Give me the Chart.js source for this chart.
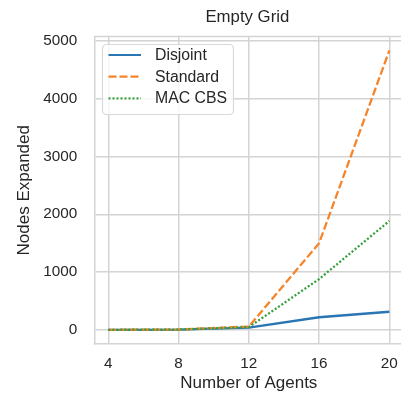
<!DOCTYPE html>
<html>
<head>
<meta charset="utf-8">
<script src="https://cdn.jsdelivr.net/npm/chart.js@4/dist/chart.umd.min.js"></script>
<style>
html, body { margin: 0; padding: 0; background: #ffffff; overflow: hidden; width: 401px; height: 395px; }
canvas { display: block; }
</style>
</head>
<body>
<canvas id="c" width="420" height="395"></canvas>
<script>
const TITLE = 'Empty Grid';
const X_LABEL = 'Number of Agents';
const Y_LABEL = 'Nodes Expanded';
const agents = [4, 8, 12, 16, 20];
const xTicks = [4, 8, 12, 16, 20];
const yTicks = [0, 1000, 2000, 3000, 4000, 5000];
const seriesNames = ['Disjoint', 'Standard', 'MAC CBS'];
const disjoint = [3, 8, 40, 220, 315];
const standard = [3, 8, 60, 1500, 4830];
const macCbs = [3, 8, 50, 880, 1885];

const FONT = "'Liberation Sans', Arial, sans-serif";
const TEXT = '#262626';
const GRID = '#d4d4d4';
const colors = ['#2a75b3', '#f5842a', '#35a03a'];
const dashes = [[], [8, 3], [2, 2]];
const values = [disjoint, standard, macCbs];

Chart.defaults.font.family = FONT;
Chart.defaults.color = TEXT;

const extras = {
  id: 'extras',
  afterDraw(chart) {
    const {ctx, chartArea: a} = chart;
    ctx.save();
    // top spine
    ctx.strokeStyle = GRID;
    ctx.lineWidth = 1.5;
    ctx.beginPath();
    ctx.moveTo(a.left, a.top);
    ctx.lineTo(a.right, a.top);
    ctx.stroke();
    // title
    ctx.fillStyle = TEXT;
    ctx.font = '16.8px ' + FONT;
    ctx.textAlign = 'center';
    ctx.textBaseline = 'alphabetic';
    ctx.fillText(TITLE, (a.left + a.right) / 2 - 1.5, 22);
    // legend
    const bx = 102.5, by = 44.5, bw = 131, bh = 70, r = 4;
    ctx.beginPath();
    ctx.moveTo(bx + r, by);
    ctx.arcTo(bx + bw, by, bx + bw, by + bh, r);
    ctx.arcTo(bx + bw, by + bh, bx, by + bh, r);
    ctx.arcTo(bx, by + bh, bx, by, r);
    ctx.arcTo(bx, by, bx + bw, by, r);
    ctx.closePath();
    ctx.fillStyle = 'rgba(255,255,255,0.8)';
    ctx.fill();
    ctx.strokeStyle = '#d9d9d9';
    ctx.lineWidth = 1.2;
    ctx.stroke();
    ctx.font = '15.8px ' + FONT;
    ctx.textAlign = 'left';
    ctx.textBaseline = 'middle';
    seriesNames.forEach((name, i) => {
      const y = 55 + i * 21.7;
      ctx.strokeStyle = colors[i];
      ctx.lineWidth = 2.2;
      ctx.setLineDash(dashes[i]);
      ctx.beginPath();
      ctx.moveTo(108.5, y);
      ctx.lineTo(141, y);
      ctx.stroke();
      ctx.setLineDash([]);
      ctx.fillStyle = TEXT;
      ctx.fillText(name, 155, y + 0.5);
    });
    ctx.restore();
  }
};

new Chart(document.getElementById('c'), {
  type: 'line',
  data: {
    datasets: seriesNames.map((name, i) => ({
      label: name,
      data: agents.map((x, j) => ({x: x, y: values[i][j]})),
      borderColor: colors[i],
      backgroundColor: colors[i],
      borderWidth: 2.3,
      borderDash: dashes[i],
      pointRadius: 0,
      tension: 0,
      fill: false,
      order: 3 - i
    }))
  },
  options: {
    responsive: false,
    animation: false,
    devicePixelRatio: 1,
    layout: { padding: { left: 0, right: 16.6, top: 36.5, bottom: 0 } },
    plugins: { legend: { display: false }, title: { display: false }, tooltip: { enabled: false } },
    scales: {
      x: {
        type: 'linear',
        min: 3.2,
        max: 20.8,
        afterBuildTicks: s => { s.ticks = xTicks.map(v => ({value: v})); },
        afterFit: s => { s.height = 51; },
        grid: { color: GRID, lineWidth: 1.5, drawTicks: false },
        border: { display: true, color: GRID, width: 1.5 },
        ticks: { color: TEXT, font: { size: 15.3 }, padding: 10.5, maxRotation: 0, callback: v => String(v) },
        title: { display: true, text: X_LABEL, color: TEXT, font: { size: 17 }, padding: { top: 0, bottom: 1.5 } }
      },
      y: {
        type: 'linear',
        min: -242,
        max: 5072,
        afterBuildTicks: s => { s.ticks = yTicks.map(v => ({value: v})); },
        afterFit: s => { s.width = 94.3; },
        grid: { color: GRID, lineWidth: 1.5, drawTicks: false },
        border: { display: true, color: GRID, width: 1.5 },
        ticks: { color: TEXT, font: { size: 15.3 }, padding: 17, callback: v => String(v) },
        title: { display: true, text: Y_LABEL, color: TEXT, font: { size: 17 }, padding: { top: 14.5, bottom: 0 } }
      }
    }
  },
  plugins: [extras]
});
</script>
</body>
</html>
